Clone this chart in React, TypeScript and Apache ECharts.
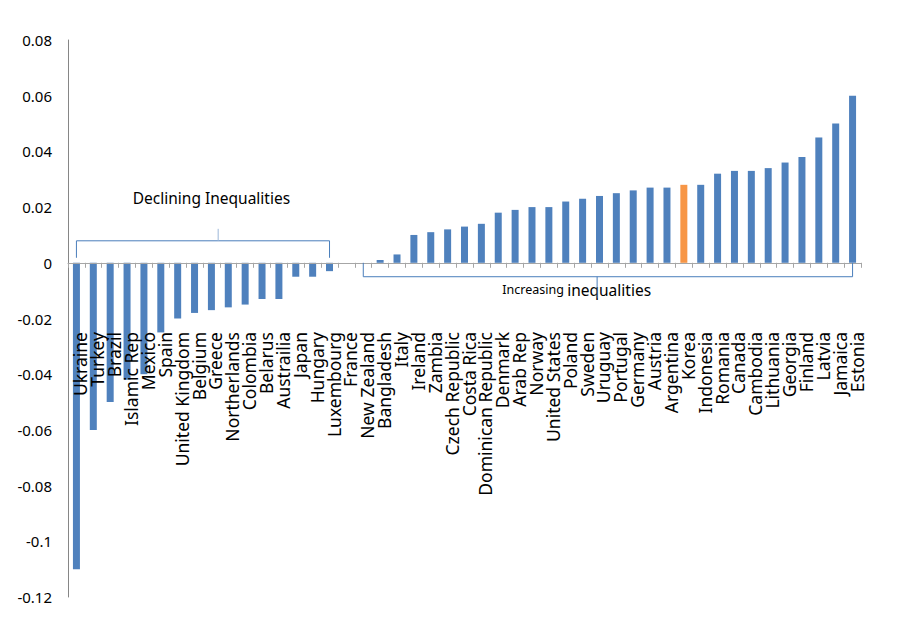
import React, { useEffect, useRef } from "react";
import * as echarts from "echarts";

const countries: string[] = [
  "Ukraine", "Turkey", "Brazil", "Islamic Rep", "Mexico", "Spain", "United Kingdom",
  "Belgium", "Greece", "Northerlands", "Colombia", "Belarus", "Austrailia", "Japan",
  "Hungary", "Luxembourg", "France", "New Zealand", "Bangladesh", "Italy", "Ireland",
  "Zambia", "Czech Republic", "Costa Rica", "Dominican Republic", "Denmark", "Arab Rep",
  "Norway", "United States", "Poland", "Sweden", "Uruguay", "Portugal", "Germany",
  "Austria", "Argentina", "Korea", "Indonesia", "Romania", "Canada", "Cambodia",
  "Lithuania", "Georgia", "Finland", "Latvia", "Jamaica", "Estonia",
];

const changes: number[] = [
  -0.11, -0.06, -0.05, -0.042, -0.04, -0.025, -0.02,
  -0.018, -0.017, -0.016, -0.015, -0.013, -0.013, -0.005,
  -0.005, -0.003, 0, 0, 0.001, 0.003, 0.01,
  0.011, 0.012, 0.013, 0.014, 0.018, 0.019,
  0.02, 0.02, 0.022, 0.023, 0.024, 0.025, 0.026,
  0.027, 0.027, 0.028, 0.028, 0.032, 0.033, 0.033,
  0.034, 0.036, 0.038, 0.045, 0.05, 0.06,
];

const highlighted = "Korea";

const yMin = -0.12;
const yMax = 0.08;
const yStep = 0.02;

const decliningRange: [string, string] = ["Ukraine", "Luxembourg"];
const increasingRange: [string, string] = ["New Zealand", "Estonia"];
const decliningLabel = "Declining Inequalities";
const increasingLabelA = "Increasing";
const increasingLabelB = "inequalities";

const BLUE = "#4f81bd";
const ORANGE = "#f79646";
const BRACKET = "#4a7ebb";
const FONT = "'Noto Sans', 'Open Sans', sans-serif";

export default function App() {
  const ref = useRef<HTMLDivElement>(null);

  useEffect(() => {
    if (!ref.current) return;
    const chart = echarts.init(ref.current, undefined, { renderer: "svg" });
    chart.setOption({
      animation: false,
      backgroundColor: "#ffffff",
      grid: { left: 68, right: 52, top: 40, bottom: 41, containLabel: false, outerBoundsMode: "none" },
      xAxis: {
        type: "category",
        data: countries,
        axisLine: { onZero: true, lineStyle: { color: "#a6a6a6", width: 1 } },
        axisTick: { show: true, length: 5, lineStyle: { color: "#a6a6a6" } },
        axisLabel: {
          interval: 0,
          rotate: 90,
          margin: -265,
          color: "#000",
          fontSize: 17.5,
          fontFamily: FONT,
          hideOverlap: false,
          formatter: (v: string) => `{c|${v}}`,
          rich: {
            c: { fontSize: 17.5, fontFamily: FONT, color: "#000", padding: [8, 0, 0, 0] },
          },
        },
        splitLine: { show: false },
        z: 3,
      },
      yAxis: {
        type: "value",
        min: yMin,
        max: yMax,
        interval: yStep,
        axisLine: { show: true, lineStyle: { color: "#868686", width: 1 } },
        axisTick: { show: false },
        splitLine: { show: false },
        axisLabel: { color: "#000", fontSize: 15, fontFamily: FONT, margin: 16 },
      },
      series: [
        {
          type: "bar",
          barWidth: 7,
          z: 1,
          data: changes.map((v, i) => ({
            value: v,
            itemStyle: { color: countries[i] === highlighted ? ORANGE : BLUE },
          })),
        },
      ],
    });

    const P = (cat: number, v: number) => chart.convertToPixel({ gridIndex: 0 }, [cat, v]) as number[];
    const d0 = countries.indexOf(decliningRange[0]);
    const d1 = countries.indexOf(decliningRange[1]);
    const i0 = countries.indexOf(increasingRange[0]);
    const i1 = countries.indexOf(increasingRange[1]);

    const dl = P(d0, 0.0079);
    const dr = P(d1, 0.0079);
    const dEndY = P(d0, 0.0018)[1];
    const dMidX = P(8, 0)[0] + 0.4 * (P(9, 0)[0] - P(8, 0)[0]);
    const dTickY = P(d0, 0.0122)[1];
    const dText = P(8, 0.0233);

    const il = P(i0, -0.005);
    const ir = P(i1, -0.005);
    const zeroY = P(i0, 0)[1];
    const iMidX = P(30, 0)[0] + 0.86 * (P(31, 0)[0] - P(30, 0)[0]);
    const iTickY = P(i0, -0.0126)[1];
    const iTextY = P(i0, -0.0097)[1];
    const iTextX = P(29, 0)[0] + 0.65 * (P(30, 0)[0] - P(29, 0)[0]);

    const ls = { stroke: BRACKET, lineWidth: 1 };
    chart.setOption({
      graphic: [
        { type: "polyline", shape: { points: [[dl[0], dEndY], [dl[0], dl[1]], [dr[0], dr[1]], [dr[0], dEndY]] }, style: { ...ls, fill: null }, z: 10 },
        { type: "line", shape: { x1: dMidX, y1: dl[1], x2: dMidX, y2: dTickY }, style: { stroke: "#9bb7d8", lineWidth: 1 }, z: 10 },
        { type: "text", x: dText[0], y: dText[1], style: { text: decliningLabel, fill: "#000", font: `15.5px ${FONT}`, align: "center", verticalAlign: "middle" }, z: 10 },
        { type: "polyline", shape: { points: [[il[0], zeroY], [il[0], il[1]], [ir[0], ir[1]], [ir[0], zeroY]] }, style: { ...ls, fill: null }, z: 10 },
        {
          type: "text",
          x: iTextX,
          y: iTextY,
          style: {
            text: `{a|${increasingLabelA} }{b|${increasingLabelB}}`,
            rich: {
              a: { fontSize: 12.5, fontFamily: FONT, fill: "#000" },
              b: { fontSize: 15.5, fontFamily: FONT, fill: "#000" },
            },
            align: "center",
            verticalAlign: "middle",
          },
          z: 10,
        },
        { type: "line", shape: { x1: iMidX, y1: il[1], x2: iMidX, y2: iTickY }, style: ls, z: 11 },
      ],
    });

    return () => chart.dispose();
  }, []);

  return (
    <div
      ref={ref}
      style={{ position: "fixed", left: 0, top: 0, width: 913, height: 638, background: "#fff" }}
    />
  );
}
